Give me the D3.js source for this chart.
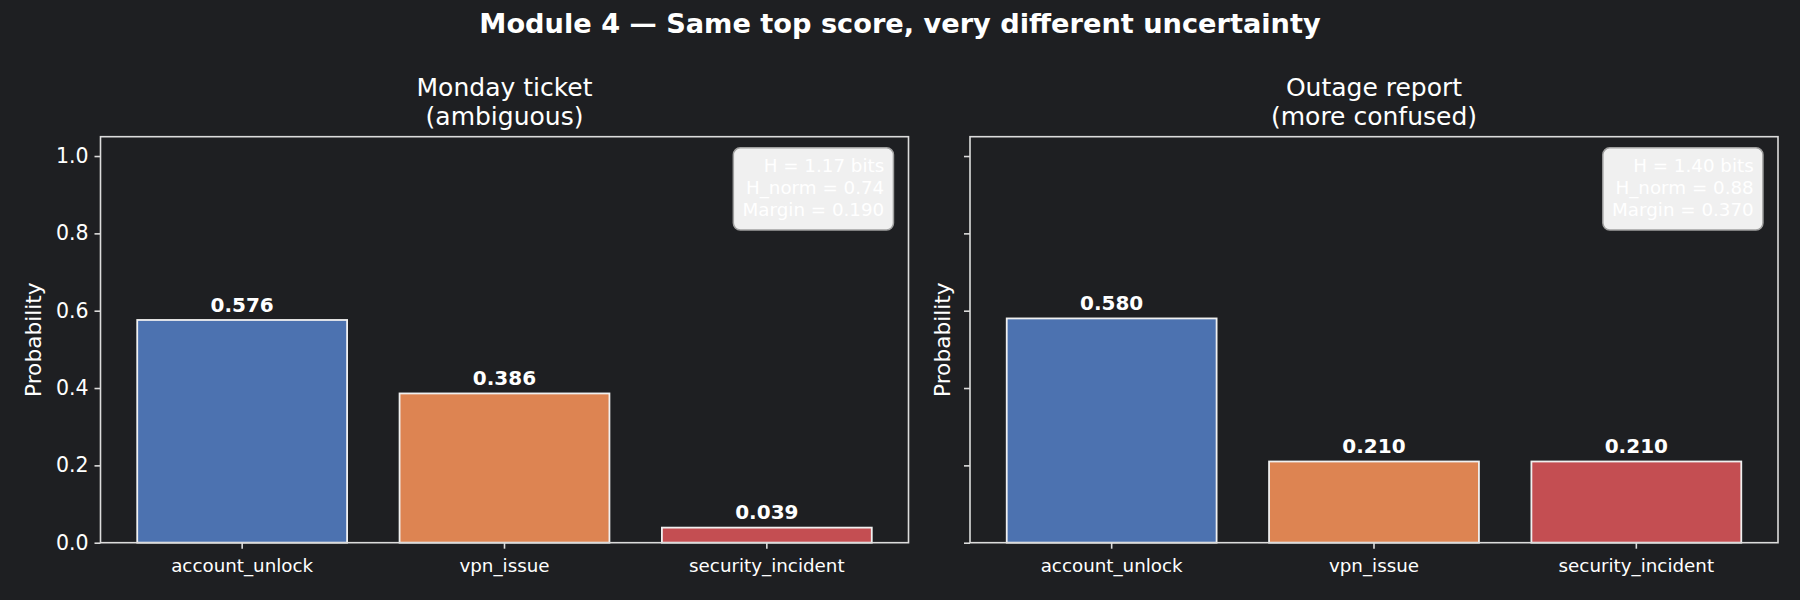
<!DOCTYPE html>
<html>
<head>
<meta charset="utf-8">
<script src="https://cdn.jsdelivr.net/npm/d3@7"></script>
<style>
  html, body { margin: 0; padding: 0; background: #1e1f22; }
  svg { display: block; }
  text { font-family: "DejaVu Sans", sans-serif; }
</style>
</head>
<body>
<svg id="chart" width="1800" height="600"></svg>
<script>
const categories = ["account_unlock", "vpn_issue", "security_incident"];
const mondayValues = [0.576, 0.386, 0.039];
const outageValues = [0.580, 0.210, 0.210];
const panelTitles = [["Monday ticket", "(ambiguous)"], ["Outage report", "(more confused)"]];
const statsMonday = ["H = 1.17 bits", "H_norm = 0.74", "Margin = 0.190"];
const statsOutage = ["H = 1.40 bits", "H_norm = 0.88", "Margin = 0.370"];
const yTicks = [0.0, 0.2, 0.4, 0.6, 0.8, 1.0];
const barColors = ["#4c72b0", "#dd8452", "#c44e52"];
const suptitle = "Module 4 \u2014 Same top score, very different uncertainty";

(function () {
const BG = "#1e1f22", FG = "#ffffff", SPINE = "#dcdcdc";
const svg = d3.select("#chart");
svg.append("rect").attr("width", 1800).attr("height", 600).attr("fill", BG);

svg.append("text").attr("x", 900).attr("y", 32.5).attr("text-anchor", "middle")
  .attr("font-size", 27.2).attr("font-weight", "bold").attr("fill", FG).text(suptitle);

const plotTop = 136.7, plotBottom = 542.7;
const y = d3.scaleLinear().domain([0, 1.05]).range([plotBottom, plotTop]);

const panels = [
  {left: 100.5, right: 908.5, values: mondayValues, title: panelTitles[0], stats: statsMonday, tickLabels: true, ylabX: 41},
  {left: 970, right: 1778, values: outageValues, title: panelTitles[1], stats: statsOutage, tickLabels: false, ylabX: 950}
];

panels.forEach(p => {
  const g = svg.append("g");
  const x = d3.scaleBand().domain(categories).range([p.left, p.right]).paddingInner(0.2).paddingOuter(0.14);
  const w = p.right - p.left;

  g.selectAll("rect.bar").data(categories).join("rect").attr("class", "bar")
    .attr("x", d => x(d)).attr("width", x.bandwidth())
    .attr("y", (d, i) => y(p.values[i])).attr("height", (d, i) => plotBottom - y(p.values[i]))
    .attr("fill", (d, i) => barColors[i]).attr("stroke", "#f0f0f0").attr("stroke-width", 1.8);

  g.selectAll("text.val").data(categories).join("text").attr("class", "val")
    .attr("x", d => x(d) + x.bandwidth() / 2).attr("y", (d, i) => y(p.values[i] + 0.01) - 4.5)
    .attr("text-anchor", "middle").attr("font-size", 20).attr("font-weight", "bold").attr("fill", FG)
    .text((d, i) => p.values[i].toFixed(3));

  g.append("rect").attr("x", p.left).attr("y", plotTop).attr("width", w).attr("height", plotBottom - plotTop)
    .attr("fill", "none").attr("stroke", SPINE).attr("stroke-width", 1.6);

  const xAxis = d3.axisBottom(x).tickSize(6).tickPadding(6);
  const gx = g.append("g").attr("transform", `translate(0,${plotBottom})`).call(xAxis);
  gx.select(".domain").remove();
  gx.selectAll(".tick line").attr("stroke", SPINE).attr("stroke-width", 1.6);
  gx.selectAll(".tick text").attr("fill", FG).attr("font-size", 18.3).attr("font-family", "DejaVu Sans").attr("dy", "0.95em");

  const yAxis = d3.axisLeft(y).tickValues(yTicks).tickFormat(d3.format(".1f")).tickSize(6).tickPadding(6);
  const gy = g.append("g").attr("transform", `translate(${p.left},0)`).call(yAxis);
  gy.select(".domain").remove();
  gy.selectAll(".tick line").attr("stroke", SPINE).attr("stroke-width", 1.6);
  gy.selectAll(".tick text").attr("fill", FG).attr("font-size", 20.5).attr("font-family", "DejaVu Sans");
  if (!p.tickLabels) gy.selectAll(".tick text").remove();

  g.append("text").attr("transform", `translate(${p.ylabX},${(plotTop + plotBottom) / 2}) rotate(-90)`)
    .attr("text-anchor", "middle").attr("font-size", 21.7).attr("fill", FG).text("Probability");

  const cx = (p.left + p.right) / 2;
  p.title.forEach((t, i) => {
    g.append("text").attr("x", cx).attr("y", 96 + i * 29).attr("text-anchor", "middle")
      .attr("font-size", 25).attr("fill", FG).text(t);
  });

  const tx = p.right - 0.03 * w;
  const ty = plotTop + 0.05 * (plotBottom - plotTop);
  const boxG = g.append("g");
  const boxRect = boxG.append("rect");
  const txt = boxG.append("text").attr("font-size", 18.3).attr("fill", FG).attr("text-anchor", "end");
  p.stats.forEach((s, i) => {
    txt.append("tspan").attr("x", tx).attr("y", ty + 14.5 + i * 22.4).text(s);
  });
  const bb = txt.node().getBBox();
  const pad = 9.2;
  boxRect.attr("x", bb.x - pad).attr("y", ty - pad).attr("width", bb.width + 2 * pad)
    .attr("height", (ty + 14.5 + 2 * 22.4 + 4.5) - ty + 2 * pad)
    .attr("rx", 7).attr("ry", 7)
    .attr("fill", "#f0f0f0").attr("stroke", "#a0a0a0").attr("stroke-width", 1.5);
});
})();
</script>
</body>
</html>
